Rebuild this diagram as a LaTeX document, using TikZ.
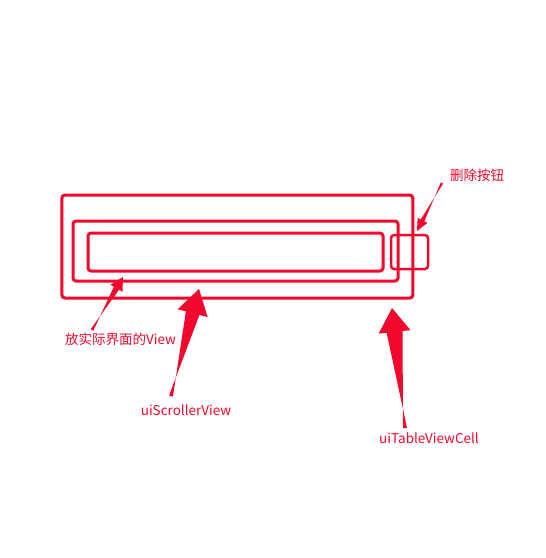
\documentclass[tikz,border=0pt]{standalone}
\usepackage{fontspec}
\setmainfont{Noto Sans CJK SC}
\usetikzlibrary{calc}
\definecolor{markred}{RGB}{242,8,44}

% fat tapered arrow: tail, tip, tail width, shaft width, head length, head width
\newcommand{\fatarrow}[6]{%
  \coordinate (H) at ($(#2)!#5!(#1)$);
  \fill[markred] ($(#1)!#3/2!90:(#2)$) -- ($(H)!#4/2!-90:(#2)$) -- ($(H)!#6/2!-90:(#2)$)
    -- (#2) -- ($(H)!#6/2!90:(#2)$) -- ($(H)!#4/2!90:(#2)$) -- ($(#1)!#3/2!-90:(#2)$) -- cycle;
}

\begin{document}
\begin{tikzpicture}[x=1pt,y=-1pt,
    box/.style={draw=markred,line width=3pt,rounded corners=3pt,inner sep=0pt},
    lbl/.style={text=markred,font=\fontsize{13.5}{16}\selectfont,inner sep=0pt}]
    \useasboundingbox (0,0) rectangle (546,558);

    %/ Boxes
    \node[box,minimum width=351pt,minimum height=103pt] (cell) at (237.4,246.5) {};
    \node[box,minimum width=325pt,minimum height=60pt] (scroller) at (235.5,251) {};
    \node[box,minimum width=295pt,minimum height=38pt] (content) at (235.5,252) {};
    \node[box,line width=2.5pt,minimum width=37pt,minimum height=34pt] (delbtn) at (409.5,252) {};

    %/ Labels
    \node[lbl] (dellbl) at (477,175) {删除按钮};
    \node[lbl] (contentlbl) at (120.5,339) {放实际界面的View};
    \node[lbl] (scrollerlbl) at (186,410) {uiScrollerView};
    \node[lbl] (celllbl) at (429,438) {uiTableViewCell};

    %/ Arrow ends
    \coordinate (deltail) at (442,183);
    \coordinate (deltip) at (417,231);
    \coordinate (contenttail) at (92,330);
    \coordinate (contenttip) at (123,277);
    \coordinate (scrollertail) at (171,396);
    \coordinate (scrollertip) at (199,289);
    \coordinate (celltail) at (405,428);
    \coordinate (celltip) at (392,308);

    %/ Arrows
    \fatarrow{deltail}{deltip}{2.5pt}{4pt}{12pt}{11pt}
    \fatarrow{contenttail}{contenttip}{3pt}{6pt}{13pt}{14pt}
    \fatarrow{scrollertail}{scrollertip}{4pt}{14pt}{25pt}{31pt}
    \fatarrow{celltail}{celltip}{4pt}{16pt}{24pt}{32pt}
\end{tikzpicture}
\end{document}
